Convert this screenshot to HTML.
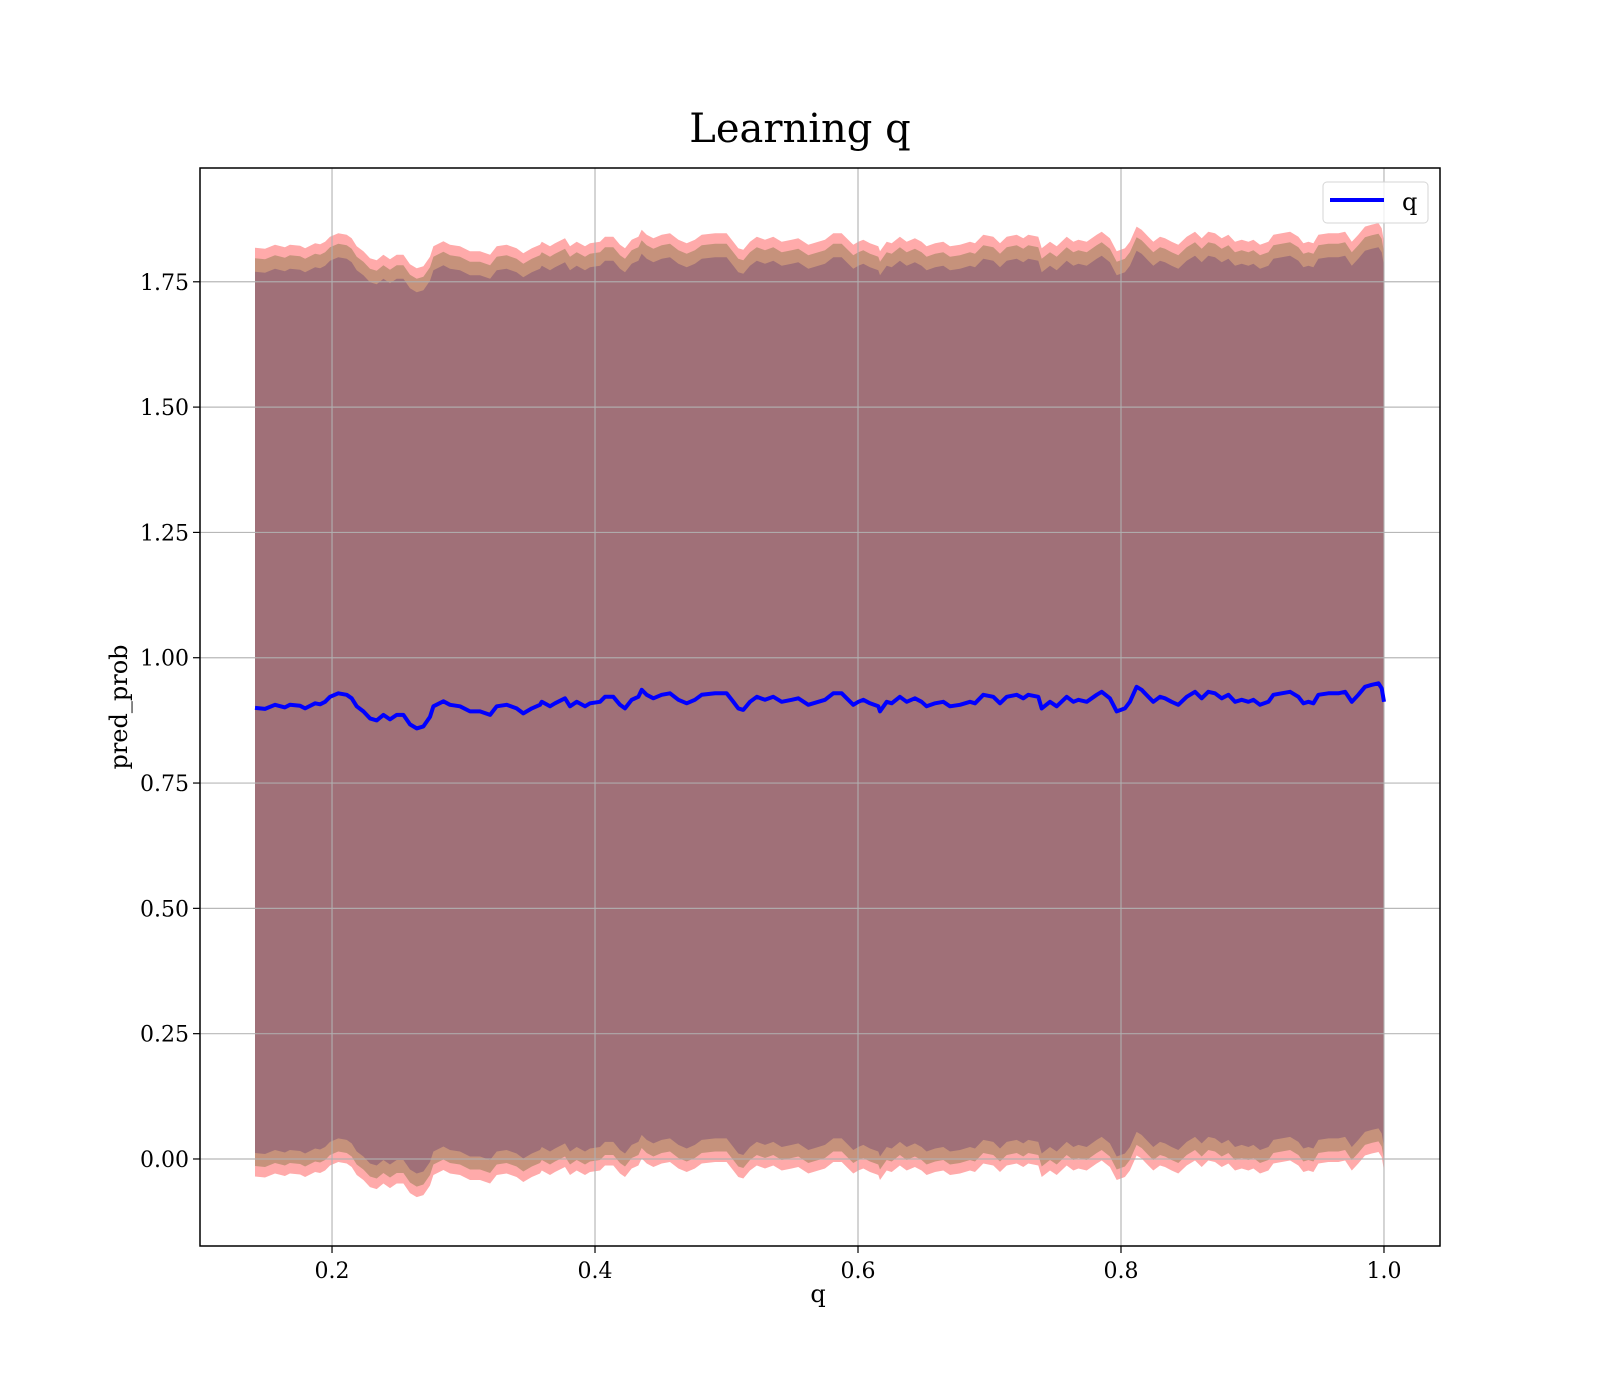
<!DOCTYPE html>
<html><head><meta charset="utf-8"><style>
html,body{margin:0;padding:0;background:#fff;}
svg{display:block;font-family:"DejaVu Serif","Liberation Serif",serif;}
</style></head><body>
<svg id="chart" width="1600" height="1400" viewBox="0 0 1600 1400" xmlns="http://www.w3.org/2000/svg">
<rect x="0" y="0" width="1600" height="1400" fill="#fff"/>
<text x="800" y="142" font-size="40" text-anchor="middle">Learning q</text>
<g id="plot"></g>
<text x="818" y="1302" font-size="24" text-anchor="middle">q</text>
<text transform="translate(127,707) rotate(-90)" font-size="24" text-anchor="middle">pred_prob</text>
<g>
<rect x="1323" y="182" width="105" height="41" rx="4" fill="#fff" fill-opacity="0.8" stroke="#d6d6d6"/>
<line x1="1330" y1="200" x2="1384" y2="200" stroke="#0000ff" stroke-width="4"/>
<text x="1402" y="210" font-size="24">q</text>
</g>
</svg>
<script>
const qValues = [0.1414,0.1490,0.1566,0.1642,0.1680,0.1757,0.1795,0.1871,0.1909,0.1947,0.1985,0.2048,0.2112,0.2150,0.2188,0.2239,0.2289,0.2340,0.2391,0.2441,0.2492,0.2543,0.2593,0.2644,0.2695,0.2745,0.2771,0.2847,0.2897,0.2973,0.3049,0.3125,0.3202,0.3252,0.3328,0.3404,0.3455,0.3519,0.3582,
0.3595,0.3658,0.3696,0.3772,0.3810,0.3861,0.3924,0.3962,0.4038,0.4076,0.4139,0.4190,0.4228,0.4279,0.4330,0.4355,0.4393,0.4444,0.4507,0.4570,0.4634,0.4697,0.4760,0.4811,0.4913,0.5001,0.5052,0.5090,0.5128,0.5179,0.5230,0.5293,0.5356,0.5420,0.5496,0.5546,0.5622,0.5698,0.5749,
0.5812,0.5876,0.5914,0.5964,0.6002,0.6040,0.6091,0.6154,0.6167,0.6218,0.6256,0.6319,0.6370,0.6433,0.6484,0.6522,0.6586,0.6649,0.6700,0.6776,0.6852,0.6890,0.6953,0.7029,0.7080,0.7131,0.7207,0.7257,0.7295,0.7371,0.7397,0.7460,0.7511,0.7587,0.7638,0.7676,0.7739,0.7815,0.7853,0.7916,
0.7967,0.8030,0.8068,0.8119,0.8157,0.8208,0.8246,0.8297,0.8335,0.8385,0.8436,0.8500,0.8563,0.8614,0.8664,0.8715,0.8766,0.8817,0.8867,0.8918,0.8969,0.9007,0.9057,0.9121,0.9159,0.9222,0.9286,0.9349,0.9387,0.9425,0.9463,0.9501,0.9577,0.9653,0.9704,0.9755,0.9805,0.9856,0.9907,0.9958,0.9983,1.0];
const predValues = [0.900,0.898,0.906,0.901,0.906,0.904,0.899,0.909,0.907,0.912,0.922,0.929,0.926,0.919,0.903,0.893,0.879,0.875,0.886,0.877,0.886,0.886,0.867,0.859,0.863,0.882,0.903,0.913,0.906,0.903,0.893,0.893,0.886,0.903,0.906,0.899,0.889,0.899,0.906,
0.912,0.903,0.909,0.919,0.903,0.912,0.903,0.909,0.912,0.922,0.922,0.906,0.899,0.916,0.922,0.936,0.926,0.919,0.926,0.929,0.916,0.909,0.916,0.926,0.929,0.929,0.912,0.899,0.896,0.912,0.922,0.916,0.922,0.912,0.916,0.919,0.906,0.912,0.916,
0.929,0.929,0.919,0.906,0.912,0.916,0.909,0.903,0.893,0.912,0.909,0.922,0.912,0.919,0.912,0.903,0.909,0.912,0.903,0.906,0.912,0.909,0.926,0.922,0.909,0.922,0.926,0.919,0.926,0.922,0.899,0.912,0.903,0.922,0.912,0.916,0.912,0.926,0.932,0.919,
0.893,0.899,0.912,0.942,0.936,0.922,0.912,0.922,0.919,0.912,0.906,0.922,0.932,0.919,0.932,0.929,0.919,0.926,0.912,0.916,0.912,0.916,0.906,0.912,0.926,0.929,0.932,0.922,0.909,0.912,0.909,0.926,0.929,0.929,0.932,0.912,0.926,0.942,0.946,0.949,0.939,0.912];
const upperOffsets = [0.918, 0.897, 0.870];
const lowerOffsets = [-0.935, -0.914, -0.888];
const bandColors = ["#ffaaaa", "#c6927b", "#a07078"];
const xTicks = [0.2, 0.4, 0.6, 0.8, 1.0];
const xTickLabels = ["0.2", "0.4", "0.6", "0.8", "1.0"];
const yTicks = [0, 0.25, 0.5, 0.75, 1.0, 1.25, 1.5, 1.75];
const yTickLabels = ["0.00", "0.25", "0.50", "0.75", "1.00", "1.25", "1.50", "1.75"];

const L = 200, R = 1440, T = 168, B = 1246;
const xMin = 0.0996, xMax = 1.0426, yMin = -0.1736, yMax = 1.977;
function xs(v){ return L + (v - xMin) / (xMax - xMin) * (R - L); }
function ys(v){ return B - (v - yMin) / (yMax - yMin) * (B - T); }
const NS = "http://www.w3.org/2000/svg";
const plot = document.getElementById('plot');
function mk(tag, attrs){ const e = document.createElementNS(NS, tag); for (const k in attrs) e.setAttribute(k, attrs[k]); return e; }

// bands
for (let b = 0; b < 3; b++) {
  let d = "";
  for (let i = 0; i < qValues.length; i++) d += (i ? "L" : "M") + xs(qValues[i]).toFixed(1) + "," + ys(predValues[i] + upperOffsets[b]).toFixed(1);
  for (let i = qValues.length - 1; i >= 0; i--) d += "L" + xs(qValues[i]).toFixed(1) + "," + ys(predValues[i] + lowerOffsets[b]).toFixed(1);
  d += "Z";
  const p = mk('path', {d: d, fill: bandColors[b]});
  
  
  plot.appendChild(p);
}
// grid
xTicks.forEach((v, i) => {
  const g = mk('line', {x1: xs(v), x2: xs(v), y1: T, y2: B, stroke: '#b0b0b0', 'stroke-width': 1.2, 'stroke-opacity': 0.9});
  
  
  plot.appendChild(g);
  const t = mk('line', {x1: xs(v), x2: xs(v), y1: B, y2: B + 7, stroke: '#000', 'stroke-width': 1.2});
  
  
  plot.appendChild(t);
  const lb = mk('text', {x: xs(v), y: B + 32, 'font-size': 22, 'text-anchor': 'middle'});
  lb.textContent = xTickLabels[i];
  
  
  plot.appendChild(lb);
});
yTicks.forEach((v, i) => {
  const g = mk('line', {x1: L, x2: R, y1: ys(v), y2: ys(v), stroke: '#b0b0b0', 'stroke-width': 1.2, 'stroke-opacity': 0.9});
  
  
  plot.appendChild(g);
  const t = mk('line', {x1: L - 7, x2: L, y1: ys(v), y2: ys(v), stroke: '#000', 'stroke-width': 1.2});
  
  
  plot.appendChild(t);
  const lb = mk('text', {x: L - 11, y: ys(v) + 8, 'font-size': 22, 'text-anchor': 'end'});
  lb.textContent = yTickLabels[i];
  
  
  plot.appendChild(lb);
});
// mean line
let ld = "";
for (let i = 0; i < qValues.length; i++) ld += (i ? "L" : "M") + xs(qValues[i]).toFixed(1) + "," + ys(predValues[i]).toFixed(1);
const line = mk('path', {d: ld, fill: 'none', stroke: '#0000ff', 'stroke-width': 4, 'stroke-linejoin': 'round'});


plot.appendChild(line);
// frame
const frame = mk('rect', {x: L, y: T, width: R - L, height: B - T, fill: 'none', stroke: '#000', 'stroke-width': 1.5});


plot.appendChild(frame);
</script>
</body></html>
